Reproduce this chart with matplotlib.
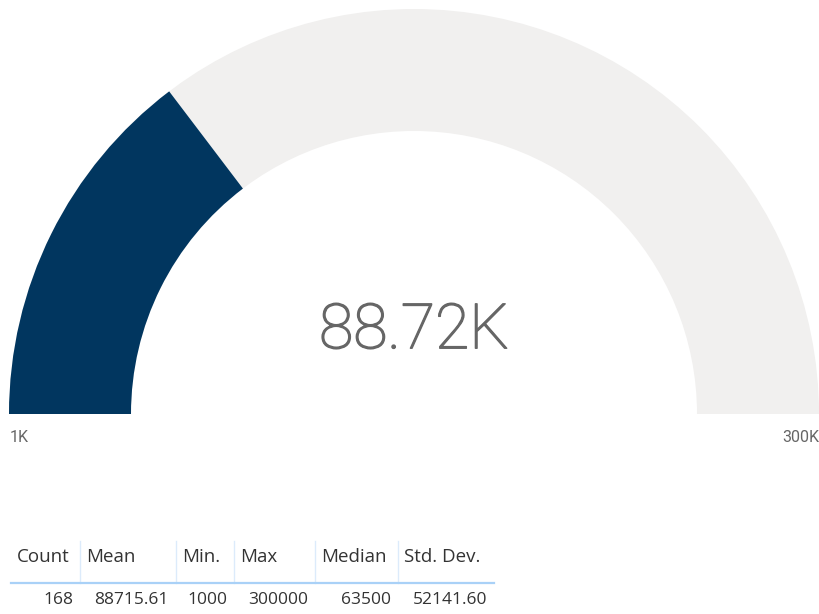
import matplotlib
matplotlib.use("Agg")
import matplotlib.pyplot as plt
import matplotlib.patheffects as pe
from matplotlib.patches import Wedge

# ── Datos ───────────────────────────────────────────────────────────────────
valor = 88715.61
minimo = 1000
maximo = 300000
etiqueta_valor = "88.72K"
etiqueta_min = "1K"
etiqueta_max = "300K"

columnas = ["Count", "Mean", "Min.", "Max", "Median", "Std. Dev."]
valores = ["168", "88715.61", "1000", "300000", "63500", "52141.60"]

# ── Estilo ──────────────────────────────────────────────────────────────────
azul = "#01365f"
gris_fondo = "#f1f0ef"
gris_texto = "#666666"
texto_tabla = "#333333"

fig = plt.figure(figsize=(8.2, 6.14), dpi=100)
ax = fig.add_axes([0, 0, 1, 1])
ax.set_xlim(0, 820)
ax.set_ylim(614, 0)
ax.set_aspect("equal")
ax.axis("off")

# ── Gauge ───────────────────────────────────────────────────────────────────
cx, cy = 414, 414
r_ext, r_int = 405, 283
ancho = r_ext - r_int
frac = (valor - minimo) / (maximo - minimo)
ang = 180 - 180 * frac  # ángulo en coordenadas de pantalla (y invertida)

# eje y invertido: los ángulos positivos van hacia abajo, así que se usan negativos
ax.add_patch(Wedge((cx, cy), r_ext, -180, 0, width=ancho,
                   facecolor=gris_fondo, edgecolor="none"))
ax.add_patch(Wedge((cx, cy), r_ext, -180, -ang, width=ancho,
                   facecolor=azul, edgecolor="none"))

ax.text(cx, 331, etiqueta_valor, ha="center", va="center",
        fontsize=45, color=gris_texto, family="Roboto", fontweight="light",
        path_effects=[pe.withStroke(linewidth=1.0, foreground=gris_texto)])
ax.text(10, 437, etiqueta_min, ha="left", va="center",
        fontsize=11.5, color=gris_texto, family="Roboto")
ax.text(819, 437, etiqueta_max, ha="right", va="center",
        fontsize=11.5, color=gris_texto, family="Roboto")

# ── Tabla ───────────────────────────────────────────────────────────────────
bordes = [11, 80, 176, 234, 315, 398, 494]
y_cab, y_val = 557, 600
y_top, y_linea = 541, 583

for i, (col, v) in enumerate(zip(columnas, valores)):
    izq, der = bordes[i], bordes[i + 1]
    ax.text(izq + 6, y_cab, col, ha="left", va="center",
            fontsize=13.5, color=texto_tabla, family="Open Sans")
    ax.text(der - 7, y_val, v, ha="right", va="center",
            fontsize=12.5, color=texto_tabla, family="Open Sans")
    if i > 0:
        ax.plot([izq, izq], [y_top, y_linea], color="#dcebfb", lw=1)

ax.plot([bordes[0], bordes[-1]], [y_linea, y_linea], color="#a9d1f7", lw=1.6)

plt.savefig("out.png", dpi=100)
